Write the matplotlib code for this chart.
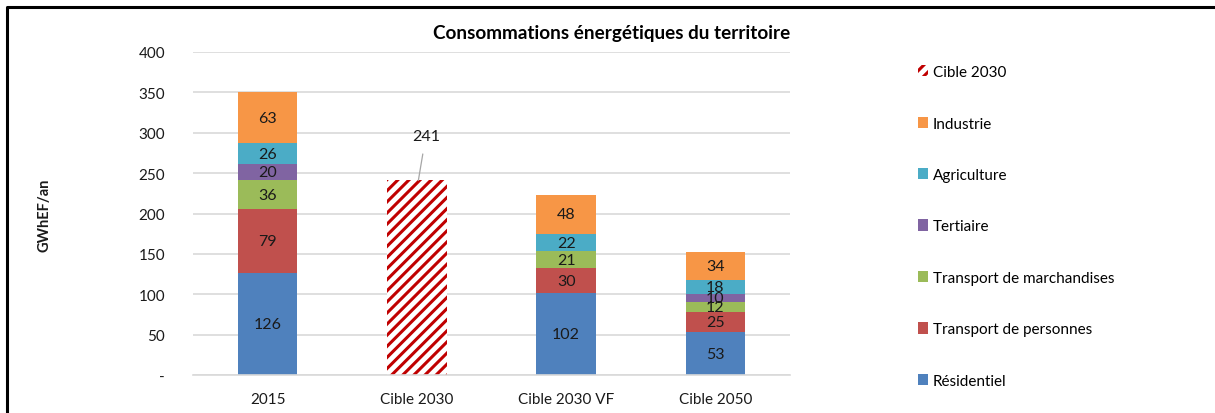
import matplotlib
matplotlib.use("Agg")
import matplotlib.pyplot as plt
from matplotlib.lines import Line2D
from matplotlib.patches import Patch
import numpy as np

plt.rcParams['font.family'] = ['Lato', 'DejaVu Sans']
plt.rcParams['hatch.linewidth'] = 2.2

categories = ["2015", "Cible 2030", "Cible 2030 VF", "Cible 2050"]
series_names = ["Résidentiel", "Transport de personnes", "Transport de marchandises",
                "Tertiaire", "Agriculture", "Industrie"]
residentiel = [126, 0, 102, 53]
transport_personnes = [79, 0, 30, 25]
transport_marchandises = [36, 0, 21, 12]
tertiaire = [20, 0, 0, 10]
agriculture = [26, 0, 22, 18]
industrie = [63, 0, 48, 34]
cible_2030 = [0, 241, 0, 0]
yticks = [0, 50, 100, 150, 200, 250, 300, 350, 400]
ytick_labels = ["-", "50", "100", "150", "200", "250", "300", "350", "400"]

series_values = [residentiel, transport_personnes, transport_marchandises,
                 tertiaire, agriculture, industrie]
colors = ["#4F81BD", "#C0504D", "#9BBB59", "#8064A2", "#4BACC6", "#F79646"]

W, H = 1215, 414
fig = plt.figure(figsize=(W / 100, H / 100), dpi=100)
ax = fig.add_axes([193 / W, 1 - 376 / H, (790 - 193) / W, (376 - 53) / H])

x = np.arange(len(categories))
bw = 0.4
bottom = np.zeros(len(categories))
handles = []
for name, vals, c in zip(series_names, series_values, colors):
    vals = np.array(vals, dtype=float)
    bars = ax.bar(x, vals, bw, bottom=bottom, color=c, zorder=2, label=name)
    labels = [f"{int(v)}" if v > 0 else "" for v in vals]
    ax.bar_label(bars, labels=labels, label_type='center', fontsize=11.5, color='#1a1a1a')
    bottom += vals
    handles.append(Patch(facecolor=c, label=name))

cb = ax.bar(x, cible_2030, bw, color='white', edgecolor='#C00000', hatch='///',
            linewidth=0, zorder=2)
for i, v in enumerate(cible_2030):
    if v > 0:
        ax.annotate(f"{v}", xy=(x[i] + 0.01, v), xytext=(x[i] + 0.06, v + 55),
                    ha='center', va='center', fontsize=11.5, color='#1a1a1a',
                    arrowprops=dict(arrowstyle='-', color='#A6A6A6', lw=0.9,
                                    shrinkA=6, shrinkB=0))
hatch_handle = Patch(facecolor='white', edgecolor='#C00000', hatch='///',
                     linewidth=0, label="Cible 2030")

ax.set_xlim(-0.5, len(categories) - 0.5)
ax.set_ylim(0, 400)
ax.set_yticks(yticks)
ax.set_yticklabels(ytick_labels)
ax.set_xticks(x)
ax.set_xticklabels(categories)
ax.tick_params(axis='both', length=0, labelsize=11, colors='#1a1a1a')
ax.tick_params(axis='y', pad=20)
ax.tick_params(axis='x', pad=12)
ax.grid(axis='y', color='#D9D9D9', lw=1.2, zorder=0)
ax.set_axisbelow(True)
for s in ['top', 'right', 'left']:
    ax.spines[s].set_visible(False)
ax.spines['bottom'].set_color('#D9D9D9')
ax.spines['bottom'].set_linewidth(1.2)

fig.text(45 / W, 1 - 215 / H, "GWhEF/an", rotation=90, fontsize=10.5, fontweight='bold',
         ha='center', va='center', color='#1a1a1a')
fig.text(612 / W, 1 - 33 / H, "Consommations énergétiques du territoire",
         fontsize=13.6, fontweight='bold', ha='center', va='center', color='#000000')

leg_handles = [hatch_handle] + handles[::-1]
fig.legend(handles=leg_handles, loc='upper left', bbox_to_anchor=(912 / W, 1 - 60 / H),
           frameon=False, fontsize=11, handlelength=0.65, handleheight=0.75,
           handletextpad=0.3, labelspacing=2.45, borderaxespad=0)

fig.add_artist(Line2D([7 / W, 7 / W, 1], [0, 1 - 8 / H, 1 - 8 / H],
                      transform=fig.transFigure, color='black', lw=2.2))

fig.savefig("out.png", dpi=100)
